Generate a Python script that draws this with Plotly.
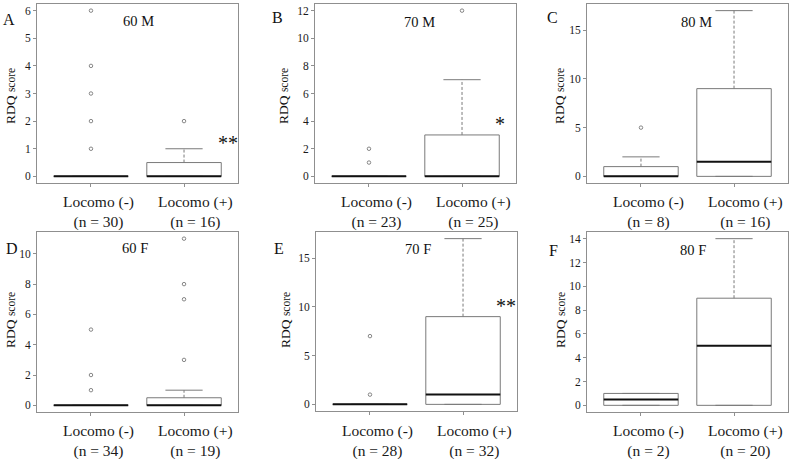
import plotly.graph_objects as go

# ---------------- data ----------------
panel_titles = ["60 M", "70 M", "80 M", "60 F", "70 F", "80 F"]
panel_letters = ["A", "B", "C", "D", "E", "F"]
significance = ["**", "*", "", "", "**", ""]
group_names = ["Locomo (-)", "Locomo (+)"]

n_minus = [30, 23, 8, 34, 28, 2]
n_plus = [16, 25, 16, 19, 32, 20]

# five-number summaries (lower whisker, Q1, median, Q3, upper whisker)
minus_lo = [0, 0, 0, 0, 0, 0]
minus_q1 = [0, 0, 0, 0, 0, 0]
minus_med = [0, 0, 0, 0, 0, 0.5]
minus_q3 = [0, 0, 1, 0, 0, 1]
minus_hi = [0, 0, 2, 0, 0, 1]
minus_out = [[1, 2, 3, 4, 6], [1, 2], [5], [1, 2, 5], [1, 7], []]

plus_lo = [0, 0, 0, 0, 0, 0]
plus_q1 = [0, 0, 0, 0, 0, 0]
plus_med = [0, 0, 1.5, 0, 1, 5]
plus_q3 = [0.5, 3, 9, 0.5, 9, 9]
plus_hi = [1, 7, 17, 1, 17, 14]
plus_out = [[2], [12], [], [3, 7, 8, 11], [], []]

y_max = [6, 12, 17, 11, 17, 14]
y_tick_step = [1, 2, 5, 2, 5, 2]

# ---------------- layout geometry (page pixels) ----------------
W, H = 793, 459
frames = [(37, 238, 4, 183), (315, 516, 4, 183), (587, 788, 4, 183),
          (37, 238, 232, 412), (316, 517, 232, 411), (587, 788, 232, 412)]
letter_pos = [(9, 19), (277, 18), (552, 18), (12, 249), (279, 249), (553, 250)]
title_pos = [(138, 21), (420, 22), (696, 22), (135, 248), (418, 249), (693, 250)]
ytitle_pos = [(10, 96), (283, 96), (559, 96), (10, 320), (285, 320), (560, 320)]
sig_pos = [(228, 143), (500, 124), None, None, (506, 306), None]
catlabel_y = [212, 212, 212, 441, 441, 441]
catlabel_shift = [0.08, 0.12]  # label offset from tick (axis units)

FONT = "Liberation Serif, Times New Roman, serif"
BOX_C = "#7a7a7a"
FRAME_C = "#8f8f8f"


def px(x):
    return x / W


def py(y):
    return 1 - y / H


fig = go.Figure()


def add_group(ax_i, pos, lo, q1, med, q3, hi, outs):
    xa = "x" if ax_i == 0 else f"x{ax_i + 1}"
    ya = "y" if ax_i == 0 else f"y{ax_i + 1}"
    hw = 0.4
    cw = 0.2
    # box outline
    fig.add_trace(go.Scatter(
        x=[pos - hw, pos + hw, pos + hw, pos - hw, pos - hw],
        y=[q1, q1, q3, q3, q1], mode="lines",
        line=dict(color=BOX_C, width=1), xaxis=xa, yaxis=ya,
        showlegend=False, hoverinfo="skip"))
    # whiskers (dashed)
    fig.add_trace(go.Scatter(
        x=[pos, pos, None, pos, pos],
        y=[q3, hi, None, q1, lo], mode="lines",
        line=dict(color=BOX_C, width=1, dash="3px,2px"), xaxis=xa, yaxis=ya,
        showlegend=False, hoverinfo="skip"))
    # caps
    fig.add_trace(go.Scatter(
        x=[pos - cw, pos + cw, None, pos - cw, pos + cw],
        y=[hi, hi, None, lo, lo], mode="lines",
        line=dict(color=BOX_C, width=1), xaxis=xa, yaxis=ya,
        showlegend=False, hoverinfo="skip"))
    # median
    fig.add_trace(go.Scatter(
        x=[pos - hw, pos + hw], y=[med, med], mode="lines",
        line=dict(color="#111111", width=2), xaxis=xa, yaxis=ya,
        showlegend=False, hoverinfo="skip"))
    # outliers
    if outs:
        fig.add_trace(go.Scatter(
            x=[pos] * len(outs), y=outs, mode="markers",
            marker=dict(symbol="circle-open", size=3.5, color="#6a6a6a",
                        line=dict(width=0.8)),
            xaxis=xa, yaxis=ya, showlegend=False, hoverinfo="skip"))


annotations = []
for i in range(6):
    add_group(i, 1, minus_lo[i], minus_q1[i], minus_med[i], minus_q3[i],
              minus_hi[i], minus_out[i])
    add_group(i, 2, plus_lo[i], plus_q1[i], plus_med[i], plus_q3[i],
              plus_hi[i], plus_out[i])

    l, r, t, b = frames[i]
    ymx = y_max[i]
    suffix = "" if i == 0 else str(i + 1)
    common = dict(showline=True, mirror=True, linecolor=FRAME_C, linewidth=1,
                  ticks="outside", tickcolor=FRAME_C, ticklen=3, tickwidth=1,
                  showgrid=False, zeroline=False, fixedrange=True)
    fig.layout["xaxis" + suffix] = dict(
        domain=[px(l), px(r)], range=[0.42, 2.58],
        anchor="y" + suffix,
        tickvals=[1, 2], showticklabels=False,
        **common)
    fig.layout["yaxis" + suffix] = dict(
        domain=[py(b), py(t)], range=[-0.04 * ymx, 1.04 * ymx],
        anchor="x" + suffix,
        tick0=0, dtick=y_tick_step[i], tickangle=0,
        tickfont=dict(family=FONT, size=11.5, color="#1a1a1a"),
        **common)

    # category labels
    ns = [n_minus[i], n_plus[i]]
    for k in range(2):
        annotations.append(dict(
            x=k + 1 + catlabel_shift[k], y=py(catlabel_y[i]),
            xref="x" + suffix, yref="paper",
            text=f"{group_names[k]}<br>(n = {ns[k]})", showarrow=False,
            font=dict(family=FONT, size=15.5, color="#1a1a1a"),
            xanchor="center", yanchor="middle"))

    lx, ly = letter_pos[i]
    annotations.append(dict(x=px(lx), y=py(ly), xref="paper", yref="paper",
                            text=panel_letters[i], showarrow=False,
                            font=dict(family=FONT, size=16, color="#111"),
                            xanchor="center", yanchor="middle"))
    tx, ty = title_pos[i]
    annotations.append(dict(x=px(tx), y=py(ty), xref="paper", yref="paper",
                            text=panel_titles[i], showarrow=False,
                            font=dict(family=FONT, size=14.5, color="#111"),
                            xanchor="center", yanchor="middle"))
    yx, yy = ytitle_pos[i]
    annotations.append(dict(x=px(yx), y=py(yy), xref="paper", yref="paper",
                            text="RDQ <span style='font-size:11.5px'>score</span>",
                            textangle=-90, showarrow=False,
                            font=dict(family=FONT, size=13.5, color="#111"),
                            xanchor="center", yanchor="middle"))
    if significance[i]:
        sx, sy = sig_pos[i]
        annotations.append(dict(x=px(sx), y=py(sy), xref="paper", yref="paper",
                                text=significance[i], showarrow=False,
                                font=dict(family=FONT, size=20, color="#111"),
                                xanchor="center", yanchor="middle"))

fig.update_layout(
    width=W, height=H,
    margin=dict(l=0, r=0, t=0, b=0),
    paper_bgcolor="white", plot_bgcolor="white",
    annotations=annotations,
    showlegend=False,
)

fig.write_html("out.html", config={"displayModeBar": False},
               post_script="document.body.style.margin='0px';"
                           "document.body.style.overflow='hidden';")
